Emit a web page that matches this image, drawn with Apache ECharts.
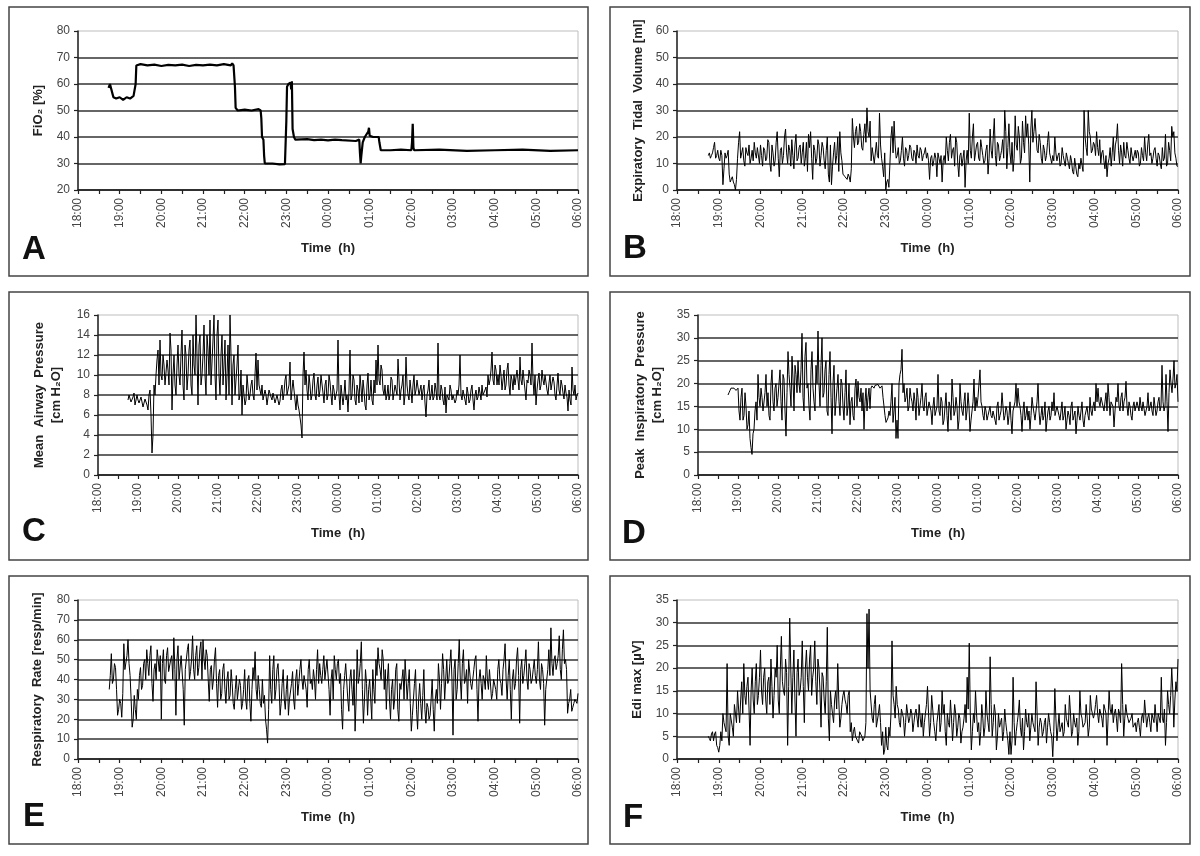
<!DOCTYPE html>
<html>
<head>
<meta charset="utf-8">
<title>Ventilation overnight</title>
<script src="https://cdn.jsdelivr.net/npm/echarts@6/dist/echarts.min.js"></script>
<style>
  html, body { margin: 0; padding: 0; background: #fff; }
  #chart { width: 1200px; height: 856px; }
</style>
</head>
<body>
<div id="chart"></div>
<script>
// x axis is minutes after 18:00, labels every hour
const hourLabels = ['18:00', '19:00', '20:00', '21:00', '22:00', '23:00', '00:00',
  '01:00', '02:00', '03:00', '04:00', '05:00', '06:00']

const fio2Times = [44, 46, 48, 50, 51, 55, 60, 65, 70, 75, 80, 82, 83, 84, 90, 100, 110, 120,
  130, 140, 150, 160, 170, 180, 190, 200, 210, 220, 222, 224, 225, 226, 227, 230, 240, 250,
  260, 262, 263, 264, 265, 267, 268, 269, 280, 290, 298, 299, 300, 301, 303, 306, 307, 308,
  309, 311, 313, 330, 340, 350, 360, 370, 380, 400, 405, 406, 407, 408, 410, 413, 418, 419,
  420, 425, 433, 434, 436, 450, 465, 480, 481, 482, 483, 484, 520, 560, 600, 640, 680, 720]
const fio2Values = [58.5, 60, 60.5, 56, 55, 54.5, 55, 54, 55, 54.5, 55.5, 55, 60, 67, 67.5, 67, 67.3, 66.8,
  67.2, 67, 67.3, 66.8, 67.2, 67, 67.3, 67, 67.5, 67, 67.8, 67, 66.5, 59, 51, 50, 50.3, 50,
  50.5, 51, 50, 47, 40, 39, 33, 30, 30, 29.7, 29.8, 30, 46, 59, 60, 60.5, 58, 61,
  43, 40, 39, 39.2, 38.8, 39, 38.7, 39, 38.8, 38.5, 39, 34, 30, 33, 38, 40, 42, 43.5,
  40.5, 40, 40, 38, 35, 35, 35.2, 35, 38, 45, 36, 35, 35.2, 34.8, 35, 35.2, 34.8, 35]

// B..F: readings every 3 min from 18:45, plus the readings half-way between (…Mid)
const sampleStart = 45
const sampleStep = 3

const tidalVolume = [
  13, 12, 14, 18, 13,
  12, 15, 2, 14, 13, 6, 4, 3, 0, 12, 22, 14, 11, 16, 13, 10, 15, 18, 12, 16,
  17, 9, 15, 12, 18, 7, 14, 11, 22, 5, 16, 13, 23, 10, 15, 19, 8, 21, 12, 17,
  14, 9, 18, 21, 22, 4, 15, 12, 17, 13, 16, 8, 20, 3, 2, 14, 10, 20, 22, 11,
  6, 5, 6, 3, 27, 16, 24, 18, 22, 15, 25, 31, 20, 11, 16, 10, 13, 29, 12, 5,
  0, 4, 10, 24, 26, 12, 16, 11, 20, 9, 15, 13, 16, 11, 14, 17, 12, 15, 13, 16,
  14, 4, 13, 11, 12, 14, 10, 3, 13, 20, 11, 21, 15, 9, 18, 5, 14, 12, 1, 15,
  29, 12, 25, 14, 18, 11, 16, 10, 15, 6, 23, 12, 27, 9, 17, 13, 19, 30, 8, 25,
  10, 7, 28, 15, 20, 12, 18, 28, 25, 3, 30, 22, 27, 14, 18, 10, 15, 13, 22, 12,
  13, 20, 11, 14, 10, 13, 9, 12, 8, 11, 6, 9, 5, 8, 12, 30, 16, 30, 20, 15,
  17, 22, 13, 10, 15, 8, 5, 12, 9, 20, 17, 25, 10, 14, 18, 12, 15, 10, 13, 11,
  12, 14, 10, 13, 20, 11, 21, 14, 12, 16, 9, 13, 8, 11, 21, 10, 15, 24, 22, 12,
  9
]
const tidalVolumeMid = [
  14, 13, 16, 12, 15,
  11, 13, 8, 12, 15, 3, 5, 2, 4, 18, 12, 16, 9, 14, 17, 12, 11, 14, 16, 10,
  13, 16, 11, 19, 10, 17, 9, 18, 12, 15, 10, 20, 14, 17, 9, 13, 17, 11, 16, 10,
  18, 12, 7, 16, 12, 17, 10, 19, 9, 18, 11, 15, 6, 17, 9, 18, 13, 7, 14, 6,
  5, 4, 5, 8, 20, 22, 17, 25, 16, 21, 18, 22, 26, 16, 10, 18, 12, 17, 9, 14,
  3, 1, 20, 14, 17, 13, 10, 15, 12, 16, 11, 17, 12, 15, 10, 13, 16, 11, 14, 12,
  11, 12, 9, 14, 5, 12, 13, 11, 10, 15, 18, 12, 16, 20, 10, 13, 9, 15, 11, 10,
  15, 20, 11, 17, 12, 19, 13, 11, 17, 12, 15, 20, 13, 18, 11, 15, 12, 22, 16, 14,
  18, 12, 17, 24, 10, 26, 14, 20, 17, 23, 18, 27, 15, 21, 12, 17, 11, 18, 14, 10,
  11, 14, 13, 9, 16, 11, 14, 10, 13, 7, 12, 6, 10, 12, 7, 20, 13, 22, 14, 18,
  13, 16, 19, 14, 11, 13, 10, 16, 14, 11, 19, 15, 17, 9, 13, 18, 12, 16, 11, 15,
  15, 9, 16, 11, 14, 17, 13, 10, 15, 12, 14, 10, 16, 12, 9, 18, 11, 20, 14, 9
]

const meanAirway = [
  7.5, 8, 7.2, 8.2, 7.5,
  7.5, 7, 8, 7.2, 7.5, 6.5, 8.5, 2.2, 9, 10, 12.5, 13.5, 9.5, 11, 8.8, 10.5, 14.2, 6.5, 12, 8,
  13, 9, 14.5, 7.5, 12, 10, 13.5, 8, 11, 16, 7, 14, 10, 15, 8, 12.5, 15.5, 9, 16, 7.5,
  15.5, 8, 14, 11, 7.5, 13, 16, 7, 12, 9.5, 13, 8, 6, 9, 7.5, 10, 8, 9.5, 7.5, 12.2,
  11.5, 8.5, 9, 7.5, 8, 7.2, 8.3, 7.5, 8, 7.2, 7.8, 7.4, 9, 8.2, 10, 8.5, 11.3, 7.5, 8.5, 6.5,
  7, 6.3, 3.7, 12.3, 10.5, 7.5, 9, 8, 10.2, 7.5, 9.8, 8.5, 10, 7.2, 9.5, 8, 9.3, 7, 8.5, 7.5,
  13.5, 6.5, 9, 8, 7.5, 6.3, 12.5, 8, 9.5, 7, 8.5, 10, 7.3, 8.5, 6.5, 10.2, 8, 7.5, 9.5, 11.5,
  13, 9, 10.5, 8, 7.5, 9, 8, 9.5, 7.5, 8.5, 11.6, 7.5, 9, 7, 11.8, 8, 9.5, 7.2, 10, 8.5,
  9.5, 8.2, 7.5, 9, 5.8, 8.5, 7.5, 9, 7.8, 8.5, 13.2, 7.5, 8.5, 7, 6.2, 8, 9, 7.5, 8.2, 7.5,
  8, 12, 7.5, 8.5, 7, 8.2, 7.5, 9, 6.5, 8.5, 7.8, 8.2, 9, 8, 8.8, 10, 9.5, 12.3, 9, 10.5,
  10, 11, 8.5, 10.5, 9, 11.2, 8, 9.5, 10, 8.8, 9.5, 11.8, 9, 10.5, 7.5, 9.2, 10, 13.2, 8, 7,
  9.5, 8.5, 10.5, 9, 9.8, 8, 10, 8.5, 9.3, 7.5, 10.2, 8, 9, 7.6, 8.2, 6.4, 7.5, 10.8, 8, 7.5,
  8.2
]
const meanAirwayMid = [
  8, 7.3, 7.8, 7, 8,
  7.2, 7.8, 6.8, 7.6, 7, 8, 6, 4, 8, 11.5, 9, 10, 12, 9, 11.5, 9, 12.5, 10, 9, 11,
  10, 12, 9, 13, 8.5, 12.5, 9, 14, 10, 12, 13, 9, 12, 10, 14, 10, 9, 13.5, 10, 14,
  10, 12, 9, 13.5, 10, 8, 12, 11, 8, 11, 7.5, 10.5, 9, 7, 10, 7.5, 9, 8, 10, 8.5,
  9, 8, 7.5, 8.5, 7, 8.5, 7.8, 8.2, 7.2, 8, 7, 8.5, 7.5, 9.5, 8, 9, 7.5, 9.5, 7.5, 8,
  6.5, 5, 10, 9, 8.5, 10, 7.5, 9.5, 8, 9, 7.8, 10, 8.2, 9, 7.5, 10, 8, 9, 7.5, 8.5,
  8, 9, 7, 9.5, 8, 8.5, 7.5, 10, 7.5, 9, 7.2, 8.8, 9.5, 7, 9, 7.5, 9.5, 7, 8.2, 9,
  9.5, 11, 8.5, 9, 8, 7.5, 9.8, 7.5, 9, 8, 9.5, 8.5, 10, 8, 9, 7.5, 8.5, 9, 8, 9.5,
  8, 9, 8.5, 7.2, 8, 9.5, 8, 7.5, 9.2, 7.5, 8, 9, 7.5, 8.8, 8, 7.5, 8.5, 8, 7.2, 8.5,
  9, 8, 8.5, 7.5, 8.8, 7.2, 8.5, 7.5, 8, 7.5, 8.8, 7.5, 8, 8.5, 7.8, 9, 10.5, 9.5, 11, 9,
  9, 10, 9.5, 8.5, 10.5, 9, 10, 8.5, 9, 10.5, 8.5, 9.5, 10.5, 8.5, 9.5, 10.5, 9, 9.5, 10, 8.5,
  10.2, 9, 9.5, 10, 8.5, 9.2, 8.5, 9.8, 8, 9, 8.5, 9.5, 8.2, 9, 7.8, 8.5, 7, 8.5, 9, 8
]

const peakInsp = [
  17.5, 18.5, 19, 19, 18.5,
  19, 12, 19, 13, 15, 11, 8, 4.5, 10, 16, 22, 15, 17, 14, 22, 18, 12, 23, 14, 20,
  17, 23, 12, 21, 8.5, 27, 19, 26, 14, 22, 25, 18, 31, 14, 29, 20, 12, 27, 16, 24,
  31.5, 15, 30, 18, 25, 13, 27, 9, 24, 16, 22, 13, 20, 12, 23, 15, 11, 17, 12, 21,
  20.5, 16, 14, 10, 19, 17, 14.5, 19.5, 19, 19.5, 19.8, 19, 19.5, 15, 11.5, 12.5, 13, 20, 14, 8,
  8, 22, 27.5, 20, 17, 14, 19, 16, 18, 12, 17, 15, 20, 14, 18, 13, 16, 11, 17, 14,
  22, 13, 16, 12, 18, 9.5, 15, 21, 13, 17, 10, 20, 14, 16, 12, 18, 9.5, 14, 21, 17,
  17, 23, 15, 12, 14, 13, 15, 12.5, 14, 11, 16, 13, 18, 12, 15, 11, 16, 9, 14, 20,
  19, 15, 9.5, 16, 13, 12, 10, 17, 13.5, 12, 20, 11, 15, 13, 9.5, 14, 12, 16, 18, 13,
  15, 12, 16, 13, 10, 14, 11, 16, 13, 9, 15, 12, 16, 10.5, 14, 13, 17, 13, 16, 20,
  19, 15, 17, 14, 18, 20, 13, 16, 10.5, 17, 20, 14, 18, 16, 20.5, 13, 15, 12, 16, 14,
  15, 17, 14, 16, 13, 18, 15, 14, 17, 13, 16, 14, 24, 14, 22, 9.5, 23, 18, 25, 20,
  16
]
const peakInspMid = [
  18, 19, 18.8, 19.2, 18.8,
  14, 17, 12, 18, 10, 14, 6, 9, 14, 12, 17, 19, 14, 18, 15, 13, 20, 16, 19, 15,
  20, 16, 22, 14, 18, 22, 15, 21, 24, 18, 20, 23, 17, 26, 19, 15, 23, 19, 14, 20,
  20, 24, 17, 23, 14, 22, 17, 20, 13, 19, 16, 21, 15, 18, 13, 20, 16, 13, 19, 15,
  17, 19, 18, 16, 14, 19, 19, 19.3, 19.6, 19.2, 19.8, 19.4, 17, 13, 12, 14, 16, 11.5, 17, 12,
  20, 23, 18, 16, 19, 15, 17, 14, 16, 19, 13, 17, 15, 17, 13, 16, 14, 15, 13, 15,
  14, 17, 11, 15, 13, 16, 12, 17, 14, 15, 12, 16, 13, 18, 14, 15, 12, 16, 14, 15,
  20, 16, 13, 15, 12, 14, 13, 14, 12, 15, 12, 14, 15, 13, 14, 13, 12, 14, 16, 15,
  16, 13, 14, 12, 15, 14, 13, 15, 12, 16, 14, 13, 12, 16, 12, 15, 13, 14, 13, 15,
  13, 14, 12, 15, 12, 13, 15, 12, 14, 12, 13, 14, 12, 13, 15, 12, 14, 15, 14, 16,
  16, 17, 15, 16, 14, 17, 16, 15, 14, 16, 15, 17, 14, 17, 15, 16, 13, 15, 14, 16,
  14, 15, 16, 13, 15, 14, 16, 13, 15, 14, 17, 15, 16, 15, 16, 18, 20, 21, 19, 22
]

const respRate = [
  35, 53, 40, 46, 22,
  30, 21, 58, 45, 60, 42, 16, 32, 20, 30, 46, 37, 50, 55, 42, 57, 29, 48, 55, 44,
  20, 55, 38, 56, 45, 52, 61, 22, 57, 40, 52, 17, 50, 58, 44, 62, 40, 57, 46, 59,
  60, 45, 52, 29, 47, 40, 56, 26, 45, 33, 48, 28, 44, 32, 38, 25, 42, 30, 37, 28,
  45, 25, 42, 19, 46, 54, 30, 35, 26, 28, 20, 8, 52, 28, 52, 35, 48, 22, 38, 30,
  35, 22, 30, 44, 25, 45, 38, 50, 35, 42, 26, 50, 40, 45, 30, 55, 48, 38, 52, 45,
  50, 22, 45, 52, 40, 50, 43, 15, 42, 49, 24, 45, 27, 14, 55, 41, 59, 18, 45, 22,
  40, 20, 35, 50, 56, 45, 55, 35, 25, 48, 20, 40, 30, 48, 19, 35, 45, 50, 30, 45,
  14, 30, 45, 15, 38, 20, 45, 18, 26, 22, 40, 14, 35, 48, 25, 53, 30, 50, 40, 55,
  12, 50, 35, 60, 30, 55, 40, 28, 50, 35, 45, 52, 19, 45, 30, 40, 52, 35, 45, 33,
  40, 30, 50, 38, 45, 58, 30, 50, 20, 45, 38, 56, 18, 50, 42, 55, 35, 45, 40, 50,
  38, 59, 35, 45, 17, 40, 55, 66, 42, 52, 48, 62, 40, 65, 50, 23, 30, 24, 28, 31,
  33
]
const respRateMid = [
  42, 38, 48, 35, 25,
  28, 33, 45, 52, 48, 30, 20, 25, 35, 42, 35, 48, 40, 48, 52, 38, 45, 40, 50, 52,
  48, 40, 52, 44, 50, 40, 45, 50, 40, 52, 35, 45, 55, 40, 50, 45, 52, 42, 55, 40,
  50, 55, 40, 45, 35, 50, 38, 42, 30, 45, 35, 40, 30, 45, 28, 35, 30, 40, 25, 35,
  30, 40, 28, 35, 40, 35, 42, 28, 40, 32, 15, 25, 35, 45, 30, 45, 38, 28, 45, 25,
  42, 30, 38, 30, 40, 32, 45, 40, 42, 35, 45, 38, 35, 40, 45, 38, 42, 45, 40, 50,
  35, 40, 30, 45, 48, 38, 25, 35, 48, 30, 40, 35, 45, 30, 38, 48, 35, 30, 38, 35,
  30, 45, 28, 42, 48, 40, 50, 45, 40, 30, 35, 25, 45, 25, 38, 40, 30, 40, 38, 28,
  22, 38, 25, 30, 28, 32, 25, 28, 20, 30, 25, 30, 28, 40, 38, 45, 40, 38, 48, 40,
  45, 30, 48, 40, 48, 38, 45, 50, 38, 40, 50, 35, 40, 38, 42, 35, 40, 45, 30, 40,
  35, 45, 40, 32, 50, 40, 42, 35, 40, 35, 50, 42, 45, 38, 48, 40, 48, 38, 45, 42,
  45, 40, 48, 38, 35, 45, 42, 48, 50, 45, 52, 45, 55, 48, 45, 28, 35, 26, 30, 28
]

const ediMax = [
  5, 4, 6, 5.5, 3,
  1.5, 6, 10, 8, 21, 3, 10, 5, 12, 15, 8, 17, 21, 12, 18, 3, 20, 10, 21, 14,
  24, 12, 20, 10, 18, 22, 9, 20, 25, 10, 27, 15, 22, 3, 31, 10, 24, 5, 22, 15,
  26, 8, 24, 15, 25, 18, 26, 12, 20, 7, 18, 10, 29, 4, 12, 8, 15, 21, 7, 12,
  15, 12, 14, 6, 4, 7, 5, 3.5, 6, 4, 5, 32, 33, 15, 8, 14, 7, 12, 3, 1,
  7, 2, 5, 26, 12, 16, 11, 7, 10, 5, 12, 8, 11, 6, 10, 9, 12, 7, 5, 10,
  16, 5, 14, 8, 4, 10, 6, 15, 12, 3, 8, 13, 4, 12, 5, 10, 3.5, 7, 12, 18,
  25.5, 2, 10, 15, 6, 3, 12, 5, 15, 8, 22.5, 5, 12, 2, 10, 8, 4, 11, 6, 1,
  1, 18, 3, 8, 13, 5, 2, 11, 7, 4, 10, 8, 17, 3, 9, 5, 8, 3.5, 10, 6,
  0.5, 15.5, 4, 10, 6, 5, 12, 8, 14, 5, 10, 7, 3, 15, 9, 7, 12, 5, 14, 10,
  10, 14, 8, 11, 7, 12, 3, 15, 10, 8, 11, 6, 10, 21, 5, 12, 9, 8, 10, 7,
  6, 9, 5, 10, 13, 7, 10, 6, 9, 12, 6, 10, 18, 8, 3, 15, 10, 20, 7, 17,
  22
]
const ediMaxMid = [
  4.5, 5.5, 4, 6, 2.5,
  3, 4, 8, 6, 5, 10, 7, 12, 8, 11, 13, 10, 14, 16, 11, 15, 13, 17, 12, 18,
  15, 18, 13, 17, 12, 16, 14, 18, 13, 20, 17, 14, 19, 16, 20, 18, 13, 19, 14, 18,
  16, 20, 18, 22, 14, 20, 17, 22, 15, 19, 13, 17, 9, 15, 10, 13, 11, 13, 9, 14,
  13, 10, 15, 8, 6, 5, 4, 6, 5, 4, 8, 20, 15, 9, 12, 7, 10, 8, 6, 2,
  3, 7, 10, 14, 9, 12, 8, 11, 9, 8, 10, 9, 10, 8, 11, 7, 9, 10, 8, 12,
  10, 8, 11, 6, 8, 12, 8, 10, 6, 10, 7, 9, 8, 10, 7, 9, 6, 9, 8, 11,
  10, 6, 8, 10, 8, 6, 9, 7, 10, 6, 12, 8, 10, 5, 7, 9, 6, 8, 4, 6,
  4, 8, 6, 10, 7, 9, 6, 8, 10, 7, 8, 6, 10, 7, 8, 6, 9, 7, 8, 5,
  6, 9, 7, 6, 8, 6, 9, 7, 10, 6, 8, 9, 6, 10, 7, 8, 9, 7, 11, 9,
  12, 10, 11, 9, 12, 10, 9, 11, 12, 10, 9, 11, 8, 12, 9, 10, 8, 9, 7, 8,
  8, 7, 9, 8, 10, 9, 8, 10, 8, 9, 10, 8, 9, 11, 8, 12, 14, 15, 13, 15
]

const FONT = 'Arial, "Liberation Sans", sans-serif'

// panel layout: plot box (px) + frame box
const panels = [
  { letter: 'A', name: 'FiO₂ [%]', min: 20, max: 80, step: 10, gap: 31,
    plot: [78, 31, 500, 159], frame: [9, 7, 579, 269], letterPos: [22, 250] },
  { letter: 'B', name: 'Expiratory  Tidal  Volume [ml]', min: 0, max: 60, step: 10, gap: 30,
    plot: [677, 31, 501, 159], frame: [610, 7, 580, 269], letterPos: [623, 249] },
  { letter: 'C', name: 'Mean  Airway  Pressure\n[cm H₂O]', min: 0, max: 16, step: 2, gap: 33,
    plot: [98, 315, 480, 160], frame: [9, 292, 579, 268], letterPos: [22, 532] },
  { letter: 'D', name: 'Peak  Inspiratory  Pressure\n[cm H₂O]', min: 0, max: 35, step: 5, gap: 32,
    plot: [698, 315, 480, 160], frame: [610, 292, 580, 268], letterPos: [622, 534] },
  { letter: 'E', name: 'Respiratory  Rate [resp/min]', min: 0, max: 80, step: 10, gap: 32,
    plot: [78, 600, 500, 159], frame: [9, 576, 579, 268], letterPos: [23, 817] },
  { letter: 'F', name: 'Edi max [µV]', min: 0, max: 35, step: 5, gap: 31,
    plot: [677, 600, 501, 159], frame: [610, 576, 580, 268], letterPos: [623, 818] }
]

// merge the 3-min readings and the half-way readings into one time-ordered list
function sampled(values, mids) {
  const out = []
  values.forEach((v, i) => {
    const t = sampleStart + i * sampleStep
    out.push([t, v])
    if (i < mids.length) out.push([t + sampleStep / 2, mids[i]])
  })
  return out
}

const seriesData = [
  fio2Times.map((t, i) => [t, fio2Values[i]]),
  sampled(tidalVolume, tidalVolumeMid),
  sampled(meanAirway, meanAirwayMid),
  sampled(peakInsp, peakInspMid),
  sampled(respRate, respRateMid),
  sampled(ediMax, ediMaxMid)
]

const grid = [], xAxis = [], yAxis = [], series = [], graphic = []

panels.forEach((p, i) => {
  grid.push({
    left: p.plot[0], top: p.plot[1], width: p.plot[2], height: p.plot[3],
    show: true, borderColor: '#bdbdbd', borderWidth: 1, backgroundColor: 'transparent'
  })
  xAxis.push({
    gridIndex: i, type: 'value', min: 0, max: 720, interval: 30,
    name: 'Time  (h)', nameLocation: 'middle', nameGap: 52,
    nameTextStyle: { fontFamily: FONT, fontWeight: 'bold', fontSize: 13, color: '#222' },
    axisLine: { lineStyle: { color: '#222', width: 1.5 } },
    axisTick: { length: 4, lineStyle: { color: '#222', width: 1.2 } },
    axisLabel: {
      rotate: 90, margin: 8, fontFamily: FONT, fontSize: 12, color: '#444',
      formatter: v => (v % 60 === 0 ? hourLabels[v / 60] : '')
    },
    splitLine: { show: false }
  })
  yAxis.push({
    gridIndex: i, type: 'value', min: p.min, max: p.max, interval: p.step,
    name: p.name, nameLocation: 'middle', nameGap: p.gap,
    nameTextStyle: { fontFamily: FONT, fontWeight: 'bold', fontSize: 13, color: '#222', lineHeight: 17 },
    axisLine: { show: true, lineStyle: { color: '#222', width: 1.5 } },
    axisTick: { show: true, length: 4, lineStyle: { color: '#222', width: 1.2 } },
    axisLabel: { margin: 8, fontFamily: FONT, fontSize: 12, color: '#444' },
    splitLine: { show: true, showMaxLine: false, lineStyle: { color: '#333', width: 1.5 } }
  })
  series.push({
    type: 'line', xAxisIndex: i, yAxisIndex: i,
    data: seriesData[i], showSymbol: false, animation: false,
    lineStyle: { color: '#000', width: i === 0 ? 2.2 : 1 },
    z: 5
  })
  graphic.push({
    type: 'rect', silent: true,
    shape: { x: p.frame[0], y: p.frame[1], width: p.frame[2], height: p.frame[3] },
    style: { fill: 'none', stroke: '#444', lineWidth: 1.5 }
  })
  graphic.push({
    type: 'text', silent: true, x: p.letterPos[0], y: p.letterPos[1],
    style: { text: p.letter, fontFamily: FONT, fontWeight: 'bold', fontSize: 33, fill: '#111', verticalAlign: 'middle' }
  })
})

const chart = echarts.init(document.getElementById('chart'))
chart.setOption({
  backgroundColor: '#fff',
  animation: false,
  grid, xAxis, yAxis, series, graphic
})
</script>
</body>
</html>
